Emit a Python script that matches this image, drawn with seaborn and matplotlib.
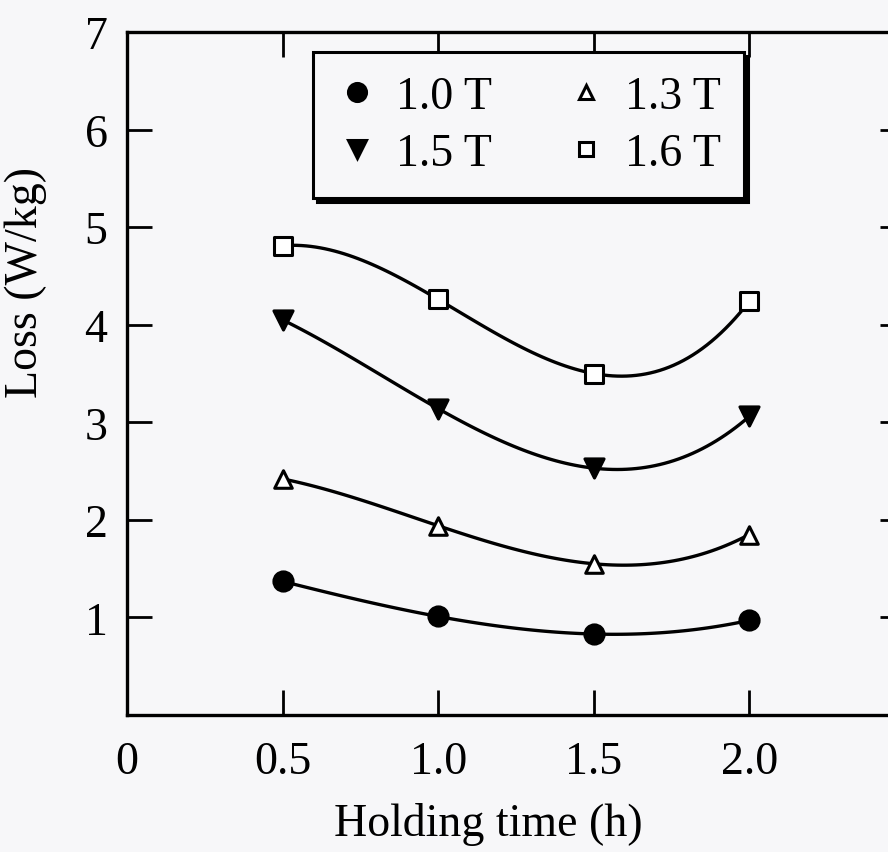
import numpy as np
import pandas as pd
import seaborn as sns
import matplotlib.pyplot as plt
from matplotlib.lines import Line2D

# holding time (h) and loss (W/kg)
hours = [0.5, 1.0, 1.5, 2.0]
loss_10T = [1.37, 1.01, 0.83, 0.97]
loss_13T = [2.42, 1.94, 1.55, 1.85]
loss_15T = [4.05, 3.14, 2.53, 3.06]
loss_16T = [4.81, 4.26, 3.50, 4.24]
labels = ['1.0 T', '1.3 T', '1.5 T', '1.6 T']

series = {
    '1.0 T': (loss_10T, 'o', 'black'),
    '1.3 T': (loss_13T, '^', 'white'),
    '1.5 T': (loss_15T, 'v', 'black'),
    '1.6 T': (loss_16T, 's', 'white'),
}

sns.set_style('ticks')
plt.rcParams['font.family'] = ['Liberation Serif', 'DejaVu Serif']
plt.rcParams['text.color'] = 'black'
plt.rcParams['axes.labelcolor'] = 'black'
plt.rcParams['xtick.color'] = 'black'
plt.rcParams['ytick.color'] = 'black'

bg = '#f7f7f9'
fig = plt.figure(figsize=(8.88, 8.53), dpi=100, facecolor=bg)
ax = fig.add_axes([0.143, 0.1606, 0.876, 0.8007])
ax.set_facecolor(bg)

for name in labels:
    vals, marker, face = series[name]
    df = pd.DataFrame({'hours': hours, 'loss': vals})
    # smooth cubic through the four points
    sns.regplot(data=df, x='hours', y='loss', order=3, ci=None, scatter=False,
                line_kws={'color': 'black', 'lw': 2.4, 'zorder': 2}, ax=ax)
    ms = 190 if marker in ('o', 'v') else 160
    sns.scatterplot(data=df, x='hours', y='loss', marker=marker, s=ms,
                    color=face, edgecolor='black', linewidth=2.2, zorder=3,
                    legend=False, ax=ax)

ax.set_xlim(0, 2.5)
ax.set_ylim(0, 7)
ax.set_xticks([0, 0.5, 1.0, 1.5, 2.0])
ax.set_xticklabels(['0', '0.5', '1.0', '1.5', '2.0'])
ax.set_yticks([1, 2, 3, 4, 5, 6, 7])
ax.set_yticklabels(['1', '2', '3', '4', '5', '6', '7'])
ax.tick_params(direction='in', length=18, width=2, labelsize=33,
               top=True, right=True, color='black', labelcolor='black')
ax.tick_params(axis='x', pad=18)
ax.tick_params(axis='y', pad=14)
for sp in ax.spines.values():
    sp.set_linewidth(2.4)
    sp.set_color('black')

ax.set_xlabel('Holding time (h)', fontsize=33)
ax.set_ylabel('Loss (W/kg)', fontsize=33)
ax.xaxis.set_label_coords(0.465, -0.127)
ax.yaxis.set_label_coords(-0.103, 0.634)

handles = []
for name in ['1.0 T', '1.5 T', '1.3 T', '1.6 T']:
    vals, marker, face = series[name]
    msz = 13 if face == 'black' else 10.5
    handles.append(Line2D([], [], ls='none', marker=marker, markersize=msz,
                          markerfacecolor=face, markeredgecolor='black',
                          markeredgewidth=2.2))
leg = ax.legend(handles, ['1.0 T', '1.5 T', '1.3 T', '1.6 T'], ncol=2,
                fontsize=33, loc='upper left', bbox_to_anchor=(0.21, 1.004),
                frameon=True, fancybox=False, handletextpad=0.4,
                columnspacing=1.6, handlelength=0.9, borderpad=0.5,
                labelspacing=0.33,
                shadow={'color': 'black', 'alpha': 1, 'ox': 3, 'oy': -3})
leg.get_frame().set_edgecolor('black')
leg.get_frame().set_linewidth(2.2)
leg.get_frame().set_facecolor(bg)
leg.get_frame().set_alpha(1)

fig.savefig('out.png', dpi=100, facecolor=bg)
